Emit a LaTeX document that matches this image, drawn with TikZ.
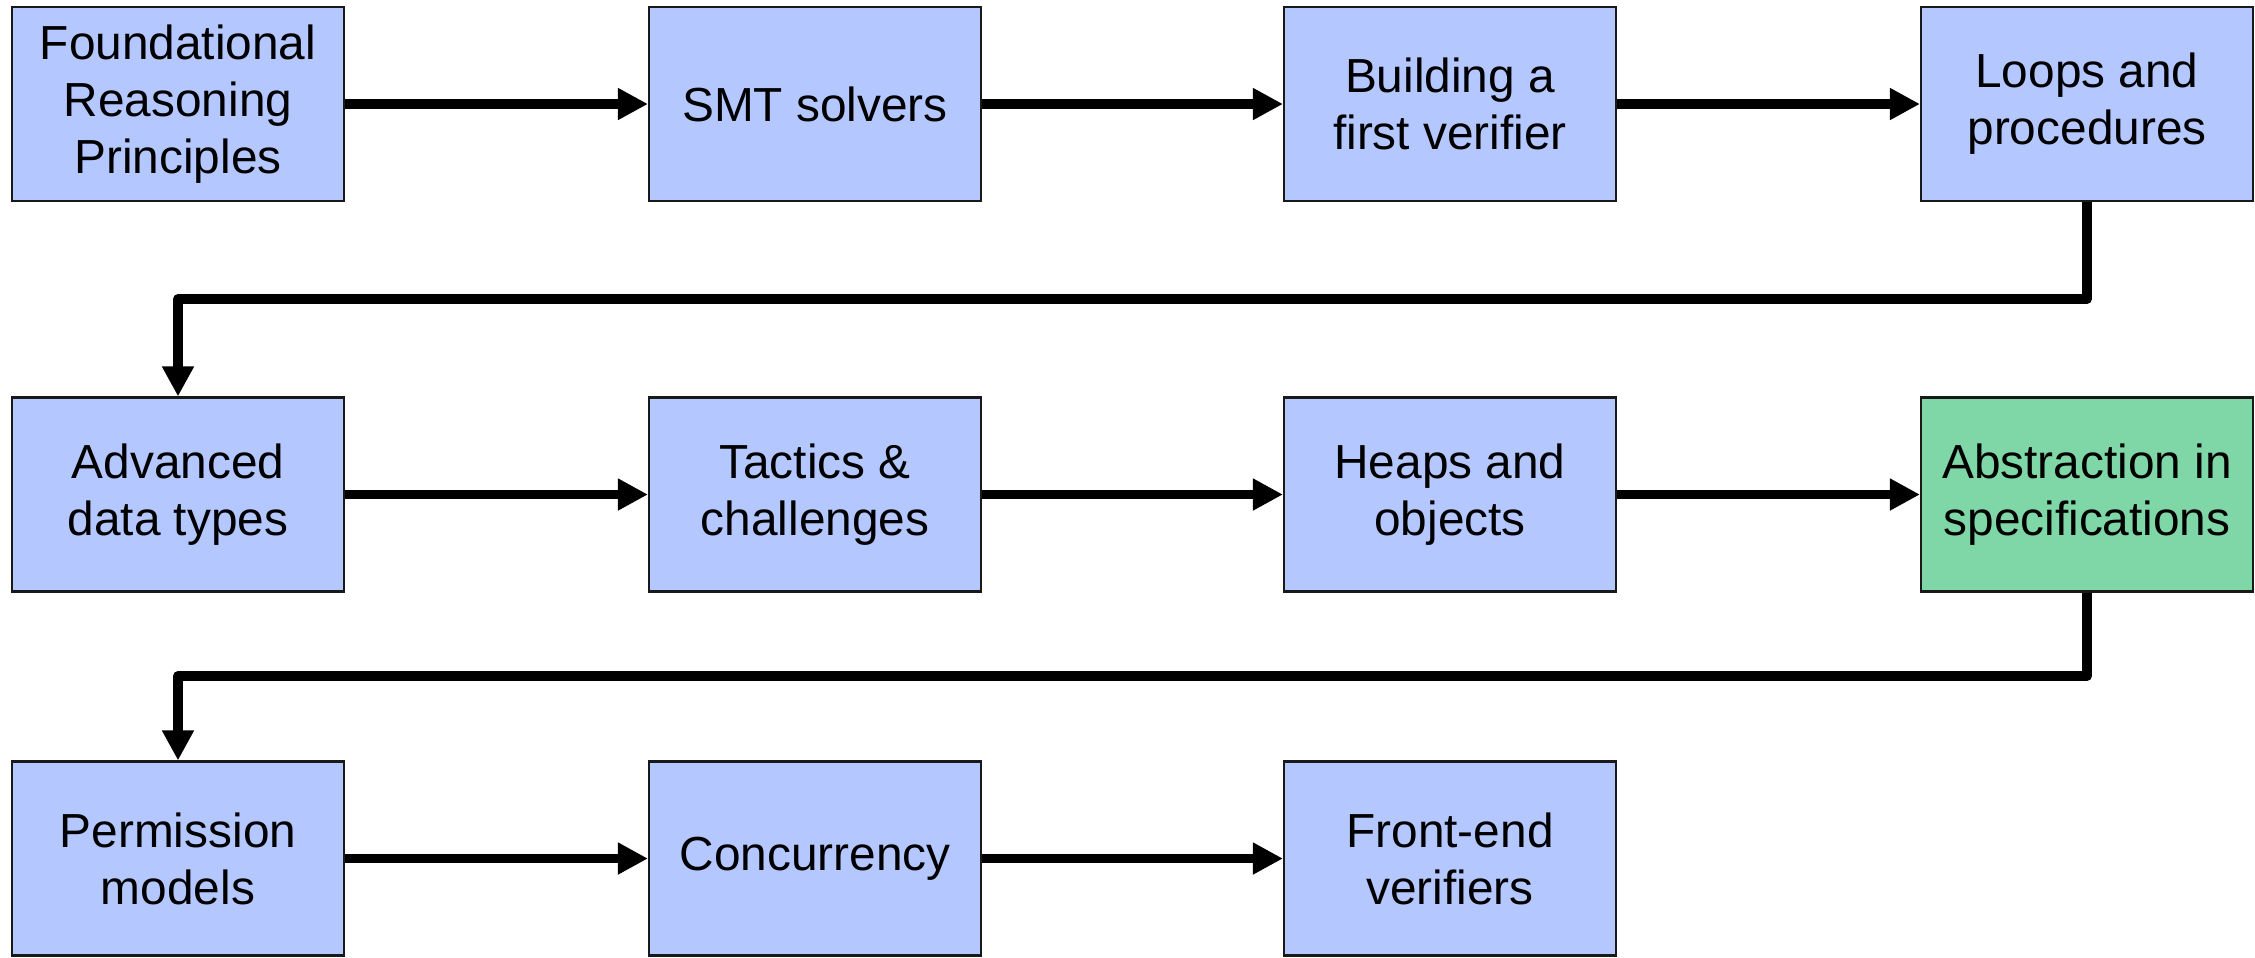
\documentclass[tikz,border=0pt]{standalone}
\usepackage{fontspec}
\setmainfont{Liberation Sans}
\usetikzlibrary{arrows.meta}

\definecolor{topicblue}{RGB}{180,199,255}
\definecolor{topicgreen}{RGB}{127,214,167}

\begin{document}
\begin{tikzpicture}[topic node/.style={rectangle, draw=black!90, line width=0.6pt, fill=topicblue,
                      minimum width=3.32cm, minimum height=1.94cm, inner sep=0pt, align=center,
                      font=\fontsize{13.6}{16.2}\selectfont},
                    flow/.style={line width=2.8pt, line join=round, -{Triangle[length=0.3cm, width=0.3cm]}}]

  \useasboundingbox (0,0) rectangle (22.55,-9.57);

  \node[topic node] (n0) at (1.78,-1.04) {Foundational\\Reasoning\\Principles};
  \node[topic node] (n1) at (8.15,-1.04) {SMT solvers};
  \node[topic node] (n2) at (14.50,-1.04) {Building a\\first verifier};
  \node[topic node] (n3) at (20.87,-1.04) {Loops and\\procedures};

  \node[topic node] (n4) at (1.78,-4.945) {Advanced\\data types};
  \node[topic node] (n5) at (8.15,-4.945) {Tactics \&\\challenges};
  \node[topic node] (n6) at (14.50,-4.945) {Heaps and\\objects};
  \node[topic node, fill=topicgreen] (n7) at (20.87,-4.945) {Abstraction in\\specifications};

  \node[topic node] (n8) at (1.78,-8.585) {Permission\\models};
  \node[topic node] (n9) at (8.15,-8.585) {Concurrency};
  \node[topic node] (n10) at (14.50,-8.585) {Front-end\\verifiers};

  \coordinate (turn1) at (0,-2.99);
  \coordinate (turn2) at (0,-6.76);

 \draw[flow] (n0) -- (n1);
 \draw[flow] (n1) -- (n2);
 \draw[flow] (n2) -- (n3);
 \draw[flow] (n3.south) -- (n3.south |- turn1) -| (n4.north);

 \draw[flow] (n4) -- (n5);
 \draw[flow] (n5) -- (n6);
 \draw[flow] (n6) -- (n7);
 \draw[flow] (n7.south) -- (n7.south |- turn2) -| (n8.north);

 \draw[flow] (n8) -- (n9);
 \draw[flow] (n9) -- (n10);

\end{tikzpicture}
\end{document}
